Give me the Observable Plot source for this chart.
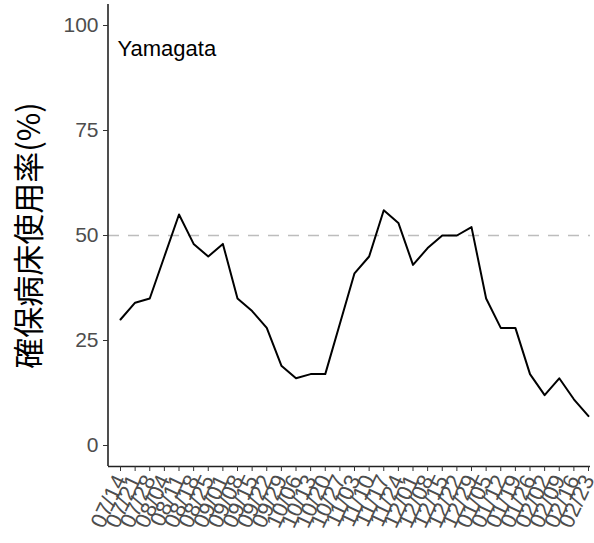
<!DOCTYPE html>
<html>
<head>
<meta charset="utf-8">
<script src="https://cdn.jsdelivr.net/npm/d3@7"></script>
<script src="https://cdn.jsdelivr.net/npm/@observablehq/plot@0.6"></script>
<style>
  html, body { margin: 0; padding: 0; background: #fff; }
  #chart svg { display: block; }
</style>
</head>
<body>
<div id="chart"></div>
<script>
const dates = ["07/14","07/21","07/28","08/04","08/11","08/18","08/25","09/01","09/08","09/15","09/22","09/29","10/06","10/13","10/20","10/27","11/03","11/10","11/17","11/24","12/01","12/08","12/15","12/22","12/29","01/05","01/12","01/19","01/26","02/02","02/09","02/16","02/23"];
const occupancy = [30,34,35,45,55,48,45,48,35,32,28,19,16,17,17,29,41,45,56,53,43,47,50,50,52,35,28,28,17,12,16,11,7];
const yTicks = [0,25,50,75,100];
const threshold = 50;
const prefecture = "Yamagata";
const yLabel = "確保病床使用率(%)";

const data = dates.map((d, i) => ({date: d, value: occupancy[i]}));

const W = 594, H = 543, ML = 108, MR = 4, MT = 4, MB = 77;

const leftAxisLine = () => {
  const l = document.createElementNS("http://www.w3.org/2000/svg", "line");
  l.setAttribute("x1", ML); l.setAttribute("x2", ML);
  l.setAttribute("y1", MT); l.setAttribute("y2", H - MB);
  l.setAttribute("stroke", "#222"); l.setAttribute("stroke-width", 1.6);
  return l;
};

const chart = Plot.plot({
  width: W, height: H,
  marginLeft: ML, marginRight: MR, marginTop: MT, marginBottom: MB,
  style: {fontFamily: "Liberation Sans, Arial, sans-serif", background: "#fff"},
  x: {type: "point", domain: dates, padding: 0, round: false, range: [120, 588]},
  y: {domain: [-5, 105]},
  marks: [
    Plot.ruleY([threshold], {stroke: "#bdbdbd", strokeWidth: 1.6, strokeDasharray: "11,9"}),
    Plot.lineY(data, {x: "date", y: "value", stroke: "#000", strokeWidth: 2}),
    Plot.text([prefecture], {x: () => dates[0], y: () => 94.5, text: d => d, textAnchor: "start", dx: -3, fontSize: 22, fill: "#000"}),
    Plot.ruleY([-5], {stroke: "#222", strokeWidth: 1.6}),
    leftAxisLine,
    Plot.axisY({ticks: yTicks, tickSize: 5, tickPadding: 5, fontSize: 21, color: "#4d4d4d", stroke: "#333", label: null}),
    Plot.axisX({tickSize: 5, tickPadding: 5, tickRotate: -65, fontSize: 22, color: "#4d4d4d", stroke: "#333", label: null}),
    Plot.text([yLabel], {frameAnchor: "left", dx: -78, rotate: -90, textAnchor: "middle", fontSize: 31, fill: "#000", fontFamily: "Noto Sans CJK JP"})
  ]
});
document.getElementById("chart").appendChild(chart);
</script>
</body>
</html>
